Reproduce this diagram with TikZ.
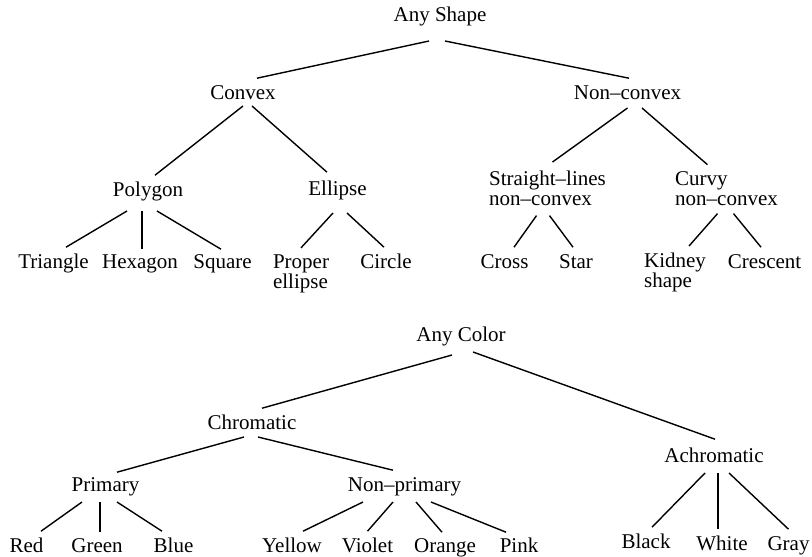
\documentclass[tikz,border=0pt]{standalone}
\usepackage{fontspec}
\setmainfont{Liberation Serif}
\usetikzlibrary{positioning}

\begin{document}
\begin{tikzpicture}[x=0.5pt, y=-0.5pt,
    tn/.style={font=\fontsize{10.5}{10}\selectfont, inner sep=3pt, text height=7.2pt, text depth=2.3pt, anchor=base},
    tm/.style={font=\fontsize{10.5}{10}\selectfont, inner sep=3pt, align=left, anchor=base},
    br/.style={line width=0.7pt}]
          \useasboundingbox (0,0) rectangle (812,556);

          % Shape tree
          \node[tn] (ashape) at (440,22) {Any Shape};
          \node[tn] (cvx) at (243,99) {Convex};
          \node[tn] (ncvx) at (627.5,99) {Non--convex};
          \node[tn] (poly) at (148,196) {Polygon};
          \node[tn] (ell) at (337.5,195) {Ellipse};
          \node[tm] (sline) at (547.5,205) {Straight--lines\\non--convex};
          \node[tm] (curvy) at (726.5,205) {Curvy\\non--convex};
          \node[tn] (tri) at (53.5,268) {Triangle};
          \node[tn] (hex) at (140,268) {Hexagon};
          \node[tn] (sq) at (222.5,268) {Square};
          \node[tm] (pell) at (301,288) {Proper\\ellipse};
          \node[tn] (circ) at (386,268) {Circle};
          \node[tn] (cross) at (504.5,268) {Cross};
          \node[tn] (star) at (576,268) {Star};
          \node[tm] (kid) at (675,287) {Kidney\\shape};
          \node[tn] (cres) at (764.5,268) {Crescent};

          \draw[br] ([xshift=-5.5pt, yshift=-4pt]ashape.south) -- ([xshift=7pt]cvx.north);
          \draw[br] ([xshift=2.5pt, yshift=-4pt]ashape.south) -- ([xshift=0.75pt]ncvx.north);
          \draw[br] ([yshift=2pt]cvx.south) -- ([xshift=3.5pt]poly.north);
          \draw[br] ([xshift=4.5pt, yshift=2pt]cvx.south) -- ([xshift=-5.25pt, yshift=1pt]ell.north);
          \draw[br] ([xshift=-10.5pt, yshift=-2pt]poly.south) -- ([xshift=6.25pt]tri.north);
          \draw[br] ([xshift=-3pt, yshift=-2pt]poly.south) -- ([xshift=1pt, yshift=-1pt]hex.north);
          \draw[br] ([xshift=4.5pt, yshift=-2pt]poly.south) -- ([xshift=-0.75pt, yshift=-1pt]sq.north);
          \draw[br] ([xshift=-2.25pt, yshift=-3.5pt]ell.south) -- (pell.north);
          \draw[br] ([xshift=4.75pt, yshift=-3.5pt]ell.south) -- ([xshift=-1pt]circ.north);
          \draw[br] ([yshift=1pt]ncvx.south) -- ([xshift=2.5pt, yshift=1pt]sline.north);
          \draw[br] ([xshift=7.25pt, yshift=1pt]ncvx.south) -- ([xshift=-9.5pt]curvy.north);
          \draw[br] ([xshift=-5.5pt, yshift=-2pt]sline.south) -- ([xshift=4.75pt]cross.north);
          \draw[br] ([xshift=1pt, yshift=-2pt]sline.south) -- ([xshift=-1.5pt]star.north);
          \draw[br] ([xshift=-4.5pt, yshift=-1pt]curvy.south) -- ([xshift=7pt]kid.north);
          \draw[br] ([xshift=3.5pt, yshift=-1pt]curvy.south) -- ([xshift=-1.75pt]cres.north);

          % Color tree
          \node[tn] (acol) at (461,341) {Any Color};
          \node[tn] (chrom) at (252,429) {Chromatic};
          \node[tn] (achrom) at (714,462) {Achromatic};
          \node[tn] (prim) at (105.5,491) {Primary};
          \node[tn] (nprim) at (404.5,491) {Non--primary};
          \node[tn] (red) at (26.5,552) {Red};
          \node[tn] (green) at (97,552) {Green};
          \node[tn] (blue) at (173.5,552) {Blue};
          \node[tn] (yellow) at (292,552) {Yellow};
          \node[tn] (violet) at (367.5,552) {Violet};
          \node[tn] (orange) at (445,552) {Orange};
          \node[tn] (pink) at (519,552) {Pink};
          \node[tn] (black) at (646,548) {Black};
          \node[tn] (white) at (722,550) {White};
          \node[tn] (gray) at (788.5,550) {Gray};

          \draw[br] ([xshift=-4.5pt, yshift=-1.5pt]acol.south) -- ([xshift=5pt]chrom.north);
          \draw[br] ([xshift=6pt]acol.south) -- ([xshift=0.5pt, yshift=1pt]achrom.north);
          \draw[br] ([xshift=-4pt, yshift=1.5pt]chrom.south) -- ([xshift=5.75pt, yshift=-1pt]prim.north);
          \draw[br] ([xshift=3pt, yshift=1.5pt]chrom.south) -- ([xshift=-5.75pt]nprim.north);
          \draw[br] ([xshift=-11.75pt]prim.south) -- ([xshift=7.25pt]red.north);
          \draw[br] ([xshift=-2.75pt]prim.south) -- ([xshift=1.5pt, yshift=-0.5pt]green.north);
          \draw[br] ([xshift=5.75pt]prim.south) -- ([xshift=-5.75pt]blue.north);
          \draw[br] ([xshift=-20.75pt]nprim.south) -- ([xshift=5.5pt]yellow.north);
          \draw[br] ([xshift=-5.75pt]nprim.south) -- (violet.north);
          \draw[br] ([xshift=5.75pt]nprim.south) -- ([xshift=-1.5pt, yshift=-0.5pt]orange.north);
          \draw[br] ([xshift=13.25pt]nprim.south) -- ([xshift=-6.5pt, yshift=-0.5pt]pink.north);
          \draw[br] ([xshift=-4.5pt]achrom.south) -- ([xshift=3pt]black.north);
          \draw[br] ([xshift=2pt]achrom.south) -- ([xshift=-2pt]white.north);
          \draw[br] ([xshift=7.5pt]achrom.south) -- (gray.north);
      \end{tikzpicture}
\end{document}
